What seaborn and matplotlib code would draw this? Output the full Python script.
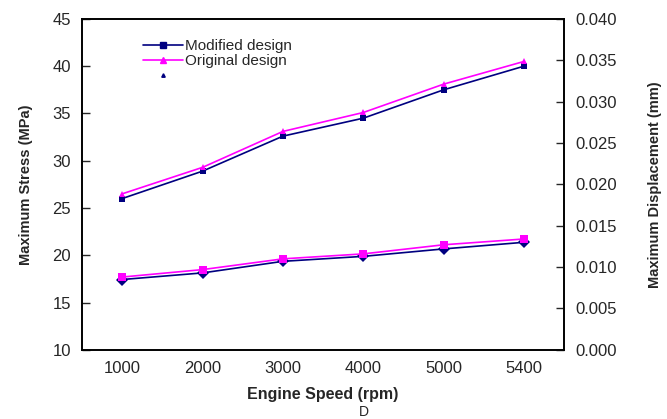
import matplotlib
matplotlib.use("Agg")
import matplotlib.pyplot as plt
from matplotlib.lines import Line2D
import pandas as pd
import seaborn as sns

speeds = ["1000", "2000", "3000", "4000", "5000", "5400"]
stress_modified = [26.0, 28.9, 32.6, 34.5, 37.5, 40.0]
stress_original = [26.5, 29.3, 33.1, 35.1, 38.1, 40.5]
disp_modified = [0.0085, 0.0093, 0.0107, 0.0113, 0.0122, 0.0130]
disp_original = [0.0088, 0.0097, 0.0110, 0.0116, 0.0127, 0.0134]
designs = ["Modified design", "Original design"]

NAVY = "#000080"
MAGENTA = "#FF00FF"

sns.set_style("white")
plt.rcParams["font.family"] = ["Liberation Sans", "DejaVu Sans"]

df = pd.DataFrame({
    "speed": speeds * 2,
    "design": [designs[0]] * 6 + [designs[1]] * 6,
    "stress": stress_modified + stress_original,
    "disp": disp_modified + disp_original,
})

fig = plt.figure(figsize=(6.67, 4.19), dpi=100)
ax = fig.add_axes([0.123, 0.165, 0.723, 0.790])
palette = {designs[0]: NAVY, designs[1]: MAGENTA}

# stress on the left axis
sns.lineplot(data=df, x="speed", y="stress", hue="design", style="design",
             markers={designs[0]: "s", designs[1]: "^"}, dashes=False,
             palette=palette, markersize=5, markeredgewidth=0, linewidth=1.2,
             legend=False, ax=ax)

# displacement on the right axis
ax2 = ax.twinx()
sns.lineplot(data=df, x="speed", y="disp", hue="design", style="design",
             markers={designs[0]: "D", designs[1]: "s"}, dashes=False,
             palette=palette, markersize=6, markeredgewidth=0, linewidth=1.2,
             legend=False, ax=ax2)

ax.set_xlim(-0.5, 5.5)
ax.set_ylim(10, 45)
ax2.set_ylim(0, 0.040)
ax.set_yticks(range(10, 46, 5))
ax2.set_yticks([i * 0.005 for i in range(9)])
ax2.set_yticklabels([f"{i * 0.005:.3f}" for i in range(9)])
ax.set_xticks(range(6))
ax.set_xticklabels(speeds)
ax.set_xticks([i + 0.5 for i in range(5)], minor=True)

ax.tick_params(axis="x", which="major", length=0, labelsize=12, pad=8)
ax.tick_params(axis="x", which="minor", direction="in", length=6, width=1)
ax.tick_params(axis="y", direction="in", length=6, width=1, labelsize=12, pad=8)
ax2.tick_params(axis="y", direction="in", length=6, width=1, labelsize=12, pad=8)

for a in (ax, ax2):
    for s in a.spines.values():
        s.set_color("black")
        s.set_linewidth(1.2)

ax.set_xlabel("Engine Speed (rpm)", fontsize=11.5, fontweight="bold", labelpad=8)
ax.set_ylabel("Maximum Stress (MPa)", fontsize=10.5, fontweight="bold", labelpad=14)
ax2.set_ylabel("Maximum Displacement (mm)", fontsize=10.5, fontweight="bold", labelpad=22)

handles = [
    Line2D([], [], color=NAVY, marker="s", markersize=4, linewidth=1.2),
    Line2D([], [], color=MAGENTA, marker="^", markersize=5, linewidth=1.2),
    Line2D([], [], color=NAVY, marker="^", markersize=2.5, linewidth=0),
]
ax.legend(handles, designs + [""], loc="upper left", bbox_to_anchor=(0.105, 0.97),
          frameon=False, fontsize=11, handlelength=2.6, handletextpad=0.1,
          labelspacing=0.05, borderpad=0.2)

fig.text(0.545, 0.0, "D", fontsize=10, ha="center", va="bottom")

fig.savefig("out.png", dpi=100)
